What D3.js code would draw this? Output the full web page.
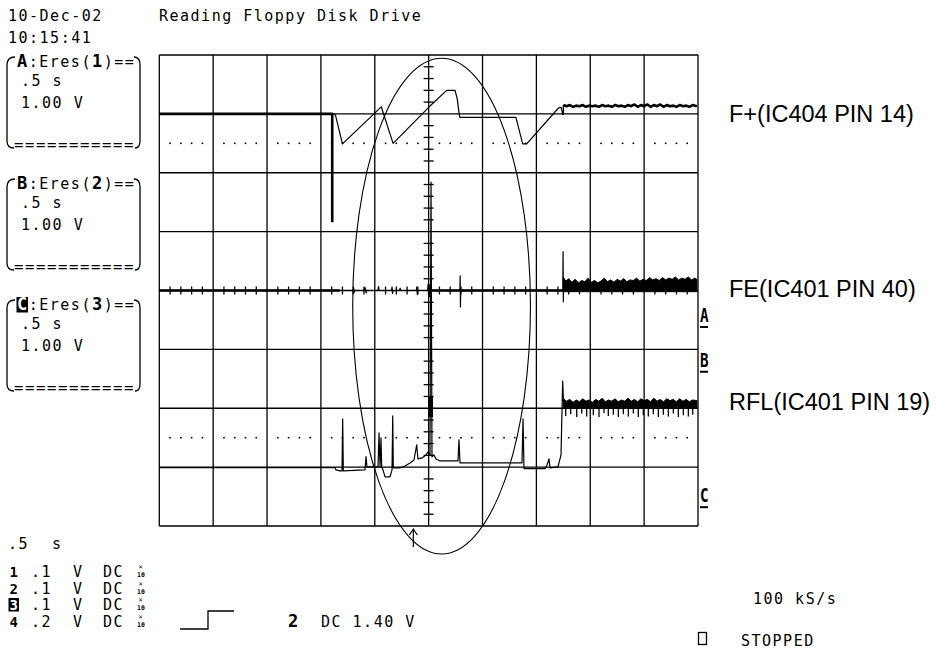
<!DOCTYPE html>
<html>
<head>
<meta charset="utf-8">
<script src="https://cdn.jsdelivr.net/npm/d3@7/dist/d3.min.js"></script>
<style>
  body { margin: 0; background: #fff; overflow: hidden; }
  svg { display: block; }
  .mono { font-family: 'DejaVu Sans Mono', monospace; font-size: 15px; letter-spacing: 1.5px; fill: #000; }
  .big { font-family: 'DejaVu Sans Mono', monospace; font-weight: bold; font-size: 17px; }
  .label { font-family: 'Liberation Sans', Arial, sans-serif; font-size: 23.5px; fill: #000; }
</style>
</head>
<body>
<svg id="scope" width="938" height="653"></svg>
<script>
// Screen texts
const dateStamp = ['10-Dec-02', '10:15:41'];
const screenTitle = 'Reading Floppy Disk Drive';
const traceNames = ['F+(IC404 PIN 14)', 'FE(IC401 PIN 40)', 'RFL(IC401 PIN 19)'];
const boxLetters = ['A', 'B', 'C'];
const boxSources = ['1', '2', '3'];
const boxTime = '.5 s';
const boxVolts = '1.00 V';
const timebase = ['.5', 's'];
const chanNums = ['1', '2', '3', '4'];
const chanScales = ['.1', '.1', '.1', '.2'];
const chanCoupling = 'DC';
const triggerSource = '2';
const triggerLevel = 'DC 1.40 V';
const sampleRate = '100 kS/s';
const runState = 'STOPPED';

// Traces, in screen divisions (time 0..10, level -4..4)
const fPlusHold = [[0, 3.0], [3.22, 3.0]];
const fPlusSpike = [[3.21, 3.0], [3.21, 1.16]];
const fPlusTrace = [[3.22, 3.0], [3.27, 2.98], [3.40, 2.49], [4.12, 3.12], [4.34, 2.50], [5.01, 3.12],
  [5.335, 3.40], [5.49, 3.40], [5.53, 3.26], [5.57, 2.98], [5.58, 2.94], [6.62, 2.94], [6.745, 2.49],
  [6.82, 2.49], [7.41, 3.10], [7.46, 3.11], [7.49, 2.99], [7.50, 2.99], [7.50, 3.15]];
const fPlusNoise = [[7.50, 3.15], [7.56, 3.13], [7.62, 3.15], [7.68, 3.12], [7.74, 3.14], [7.80, 3.13],
  [7.86, 3.15], [7.92, 3.12], [7.98, 3.14], [8.04, 3.13], [8.10, 3.14], [8.16, 3.12], [8.22, 3.15],
  [8.28, 3.13], [8.34, 3.14], [8.40, 3.12], [8.46, 3.15], [8.52, 3.13], [8.58, 3.14], [8.64, 3.12],
  [8.70, 3.15], [8.76, 3.13], [8.82, 3.16], [8.88, 3.12], [8.94, 3.15], [9.00, 3.13], [9.06, 3.16],
  [9.12, 3.12], [9.18, 3.15], [9.24, 3.13], [9.30, 3.16], [9.36, 3.12], [9.42, 3.15], [9.48, 3.13],
  [9.54, 3.14], [9.60, 3.12], [9.66, 3.15], [9.72, 3.13], [9.78, 3.14], [9.84, 3.12], [9.90, 3.15], [9.98, 3.13]];

const feHeavy = [[[0, 0], [3.35, 0]], [[5.03, 0], [7.50, 0]]];
const feTrace = [[3.35, 0], [3.60, 0], [3.61, 0.04], [3.62, -0.03], [3.63, 0], [3.80, 0], [3.82, 0.05],
  [3.84, -0.04], [3.85, 0], [4.06, 0], [4.07, 0.07], [4.08, 0], [4.31, 0], [4.32, 0.06], [4.33, -0.05],
  [4.34, 0], [4.46, 0], [4.47, 0.04], [4.48, 0], [4.77, 0], [4.78, 0.06], [4.79, -0.07], [4.80, 0],
  [4.98, 0], [4.99, 0.11], [5.00, -0.11], [5.01, 0.10], [5.02, -0.10], [5.03, 0], [5.58, 0],
  [5.585, 0.25], [5.59, -0.28], [5.595, 0], [7.49, 0], [7.495, 0.66], [7.50, -0.19], [7.505, 0.2]];
const feBandTop = [[7.50, 0.22], [7.55, 0.16], [7.60, 0.20], [7.66, 0.14], [7.72, 0.19], [7.78, 0.13],
  [7.84, 0.17], [7.90, 0.15], [7.96, 0.21], [8.02, 0.14], [8.08, 0.17], [8.14, 0.13], [8.20, 0.16],
  [8.26, 0.21], [8.32, 0.15], [8.38, 0.18], [8.44, 0.14], [8.50, 0.19], [8.56, 0.16], [8.62, 0.20],
  [8.68, 0.15], [8.74, 0.18], [8.80, 0.17], [8.86, 0.21], [8.92, 0.16], [8.98, 0.19], [9.04, 0.17],
  [9.10, 0.22], [9.16, 0.18], [9.22, 0.20], [9.28, 0.17], [9.34, 0.22], [9.40, 0.18], [9.46, 0.21],
  [9.52, 0.19], [9.58, 0.23], [9.64, 0.18], [9.70, 0.21], [9.76, 0.19], [9.82, 0.23], [9.88, 0.18],
  [9.94, 0.21], [9.98, 0.19]];

const rflTrace = [[0, -3.008], [3.262, -3.008], [3.28, -3.048], [3.354, -3.065], [3.392, -3.065],
  [3.404, -2.182], [3.416, -3.065], [3.818, -3.048], [3.837, -2.822], [3.855, -2.997], [4.06, -2.997],
  [4.079, -2.419], [4.097, -2.997], [4.116, -2.504], [4.128, -2.997], [4.153, -3.048], [4.19, -3.166],
  [4.283, -3.166], [4.32, -3.048], [4.333, -2.131], [4.344, -3.014], [4.468, -3.014], [4.561, -2.98],
  [4.654, -2.929], [4.728, -2.878], [4.778, -2.623], [4.802, -2.861], [4.877, -2.844], [4.951, -2.793],
  [4.988, -2.742], [5.025, -2.793], [5.044, 1.84], [5.062, -2.827], [5.099, -2.793], [5.136, -2.861],
  [5.211, -2.895], [5.545, -2.895], [5.563, -2.538], [5.582, -2.929], [6.733, -2.929], [6.752, -2.18],
  [6.77, -3.025], [7.16, -3.025], [7.197, -2.963], [7.234, -2.861], [7.253, -3.014], [7.401, -2.997],
  [7.457, -2.793], [7.488, -1.537], [7.503, -1.88]];
const rflBurst = [[5.044, -1.80], [5.044, -2.15]];
const rflBandTop = [[7.50, -1.84], [7.56, -1.88], [7.62, -1.85], [7.68, -1.90], [7.74, -1.86], [7.80, -1.89],
  [7.86, -1.84], [7.92, -1.88], [7.98, -1.86], [8.04, -1.90], [8.10, -1.85], [8.16, -1.88], [8.22, -1.83],
  [8.28, -1.89], [8.34, -1.86], [8.40, -1.88], [8.46, -1.84], [8.52, -1.89], [8.58, -1.86], [8.64, -1.88],
  [8.70, -1.83], [8.76, -1.88], [8.82, -1.85], [8.88, -1.89], [8.94, -1.84], [9.00, -1.87], [9.06, -1.85],
  [9.12, -1.89], [9.18, -1.83], [9.24, -1.88], [9.30, -1.85], [9.36, -1.89], [9.42, -1.84], [9.48, -1.87],
  [9.54, -1.85], [9.60, -1.89], [9.66, -1.84], [9.72, -1.88], [9.78, -1.85], [9.84, -1.89], [9.90, -1.86],
  [9.98, -1.87]];
const rflBandDips = [[7.544, -2.13], [7.637, -2.10], [7.749, -2.15], [7.841, -2.09], [7.934, -2.14],
  [8.057, -2.12], [8.162, -2.15], [8.255, -2.08], [8.335, -2.13], [8.428, -2.11], [8.521, -2.15],
  [8.614, -2.10], [8.707, -2.14], [8.800, -2.09], [8.892, -2.15], [8.985, -2.12], [9.078, -2.14],
  [9.171, -2.10], [9.264, -2.15], [9.357, -2.11], [9.450, -2.14], [9.542, -2.09], [9.635, -2.15],
  [9.728, -2.12], [9.821, -2.14], [9.902, -2.11]];

const dotLevels = [2.5, -2.5];
const markerLevels = [-0.62, -1.38, -3.68]; // channel offset markers A, B, C
const triggerTime = 4.715;
const circleMark = { t: 5.24, v: -0.265, rt: 1.65, rv: 4.21 };

// Scales
const svg = d3.select('#scope');
const x = d3.scaleLinear().domain([0, 10]).range([159.3, 698]);
const y = d3.scaleLinear().domain([-4, 4]).range([526, 55]);
const line = d3.line().x(d => x(d[0])).y(d => y(d[1]));
const notMajor = d => Math.abs(d - Math.round(d)) > 0.01;

// Grid
const grid = svg.append('g').attr('stroke', '#000').attr('stroke-width', 1.3);
grid.selectAll('.vline').data(d3.range(0, 11)).join('line').attr('class', 'vline')
  .attr('x1', d => x(d)).attr('x2', d => x(d)).attr('y1', y(4)).attr('y2', y(-4));
grid.selectAll('.hline').data(d3.range(-4, 5)).join('line').attr('class', 'hline')
  .attr('x1', x(0)).attr('x2', x(10)).attr('y1', d => y(d)).attr('y2', d => y(d));

// Minor ticks on the centre axes
const minorT = d3.range(0, 10.001, 0.2).filter(notMajor);
const minorV = d3.range(-4, 4.001, 0.2).filter(notMajor);
grid.selectAll('.tx').data(minorT).join('line').attr('class', 'tx')
  .attr('x1', d => x(d)).attr('x2', d => x(d)).attr('y1', y(0) - 4).attr('y2', y(0) + 4);
grid.selectAll('.ty').data(minorV).join('line').attr('class', 'ty')
  .attr('x1', x(5) - 5).attr('x2', x(5) + 5).attr('y1', d => y(d)).attr('y2', d => y(d));

// Dotted reference levels
dotLevels.forEach(lvl => {
  svg.append('g').selectAll('rect').data(minorT).join('rect')
    .attr('x', d => x(d) - 0.8).attr('y', y(lvl) - 0.8)
    .attr('width', 1.6).attr('height', 1.6).attr('fill', '#000');
});

// Traces
const traces = svg.append('g').attr('fill', 'none').attr('stroke', '#000')
  .attr('stroke-linejoin', 'round');
const drawPath = (data, w) => traces.append('path').attr('d', line(data)).attr('stroke-width', w);

drawPath(fPlusHold, 2.6);
drawPath(fPlusSpike, 2.6);
drawPath(fPlusTrace, 1.2);
drawPath(fPlusNoise, 2.6);

feHeavy.forEach(seg => drawPath(seg, 2.6));
drawPath(feTrace, 1.2);
svg.append('path')
  .attr('d', d3.area().x(d => x(d[0])).y0(y(-0.02)).y1(d => y(d[1]))(feBandTop))
  .attr('fill', '#000').attr('stroke', '#000').attr('stroke-width', 1);

drawPath(rflTrace, 1.2);
drawPath(rflBurst, 4);
svg.append('path')
  .attr('d', d3.area().x(d => x(d[0])).y0(y(-1.99)).y1(d => y(d[1]))(rflBandTop))
  .attr('fill', '#000').attr('stroke', '#000').attr('stroke-width', 1);
traces.selectAll('.dip').data(rflBandDips).join('line').attr('class', 'dip')
  .attr('x1', d => x(d[0])).attr('x2', d => x(d[0]))
  .attr('y1', y(-1.95)).attr('y2', d => y(d[1])).attr('stroke-width', 1.3);

// Hand-drawn circle and trigger arrow
svg.append('ellipse')
  .attr('cx', x(circleMark.t)).attr('cy', y(circleMark.v))
  .attr('rx', x(circleMark.rt) - x(0)).attr('ry', y(0) - y(circleMark.rv))
  .attr('fill', 'none').attr('stroke', '#000').attr('stroke-width', 1.1);
const ax = x(triggerTime);
svg.append('path')
  .attr('d', `M${ax},529 L${ax},547 M${ax - 4},535 L${ax},529 L${ax + 4},535`)
  .attr('fill', 'none').attr('stroke', '#000').attr('stroke-width', 1.2);

// Channel offset markers on the right edge
markerLevels.forEach((lvl, i) => {
  const base = y(lvl);
  svg.append('text').attr('class', 'big').attr('x', 700).attr('y', base - 5)
    .attr('transform', `translate(${700 * 0.25},0) scale(0.75,1)`)
    .style('font-size', '19px').text(boxLetters[i]);
  svg.append('line').attr('x1', 700).attr('x2', 708).attr('y1', base).attr('y2', base)
    .attr('stroke', '#000').attr('stroke-width', 2);
});

// Trace labels
const labelBase = [121.7, 296.7, 410];
traceNames.forEach((t, i) => {
  svg.append('text').attr('class', 'label').attr('x', 729).attr('y', labelBase[i]).text(t);
});

// Header
svg.append('text').attr('class', 'mono').attr('x', 8).attr('y', 21).text(dateStamp[0]);
svg.append('text').attr('class', 'mono').attr('x', 8).attr('y', 43).text(dateStamp[1]);
svg.append('text').attr('class', 'mono').attr('x', 159).attr('y', 21).text(screenTitle);

// Channel boxes
const boxTitleBase = [67, 189, 310];
boxLetters.forEach((letter, i) => {
  const b = boxTitleBase[i];
  const top = b - 10, bot = b + 81;
  const g = svg.append('g');
  g.append('path')
    .attr('d', `M15,${top} Q7,${top} 7,${top + 8} L7,${bot - 7} Q7,${bot} 14,${bot}` +
      ` M134,${top} Q140,${top} 140,${top + 8} L140,${bot - 7} Q140,${bot} 135,${bot}`)
    .attr('fill', 'none').attr('stroke', '#000').attr('stroke-width', 1.3);
  if (i === 2) {
    g.append('rect').attr('x', 16.5).attr('y', b - 13).attr('width', 11.5).attr('height', 15.5).attr('fill', '#000');
  }
  const t = g.append('text').attr('class', 'mono').attr('x', 17).attr('y', b);
  t.append('tspan').attr('class', 'big').attr('fill', i === 2 ? '#fff' : '#000').text(letter);
  t.append('tspan').text(':Eres(');
  t.append('tspan').attr('class', 'big').text(boxSources[i]);
  t.append('tspan').text(')==');
  g.append('text').attr('class', 'mono').attr('x', 21).attr('y', b + 19).text(boxTime);
  g.append('text').attr('class', 'mono').attr('x', 21).attr('y', b + 41).text(boxVolts);
  g.append('text').attr('class', 'mono').attr('x', 14).attr('y', bot + 2)
    .attr('textLength', 121).attr('lengthAdjust', 'spacingAndGlyphs').text('===========');
});

// Bottom-left channel settings
svg.append('text').attr('class', 'mono').attr('x', 8).attr('y', 549).text(timebase[0]);
svg.append('text').attr('class', 'mono').attr('x', 52).attr('y', 549).text(timebase[1]);
const rowBase = [577, 593.5, 610, 626.5];
chanNums.forEach((n, i) => {
  const b = rowBase[i];
  if (i === 2) {
    svg.append('rect').attr('x', 8.5).attr('y', b - 12).attr('width', 10.5).attr('height', 13.5).attr('fill', '#000');
  }
  svg.append('text').attr('class', 'big').attr('x', 9.5).attr('y', b).style('font-size', '14px')
    .attr('fill', i === 2 ? '#fff' : '#000').text(n);
  svg.append('text').attr('class', 'mono').attr('x', 31).attr('y', b).text(chanScales[i]);
  svg.append('text').attr('class', 'mono').attr('x', 73).attr('y', b).text('V');
  svg.append('text').attr('class', 'mono').attr('x', 103).attr('y', b).text(chanCoupling);
  svg.append('text').attr('x', 138.5).attr('y', b - 8).style('font', '7px DejaVu Sans Mono').text('×');
  svg.append('text').attr('x', 137).attr('y', b).style('font', 'bold 6.5px DejaVu Sans Mono').text('10');
});

// Trigger symbol and level
svg.append('path').attr('d', 'M180,629 L208,629 L208,611 L234,611')
  .attr('fill', 'none').attr('stroke', '#000').attr('stroke-width', 1.3);
svg.append('text').attr('class', 'big').attr('x', 288).attr('y', 627).text(triggerSource);
svg.append('text').attr('class', 'mono').attr('x', 321).attr('y', 627).text(triggerLevel);

// Acquisition status
svg.append('text').attr('class', 'mono').attr('x', 753).attr('y', 604).text(sampleRate);
svg.append('rect').attr('x', 698.5).attr('y', 632.5).attr('width', 8).attr('height', 12)
  .attr('fill', 'none').attr('stroke', '#000').attr('stroke-width', 1.3);
svg.append('text').attr('class', 'mono').attr('x', 741).attr('y', 646).text(runState);
</script>
</body>
</html>
